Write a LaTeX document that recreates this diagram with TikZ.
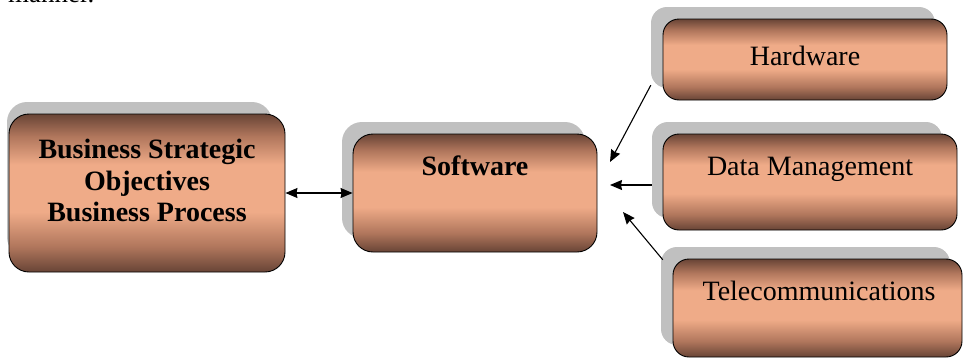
\documentclass[tikz,border=0pt]{standalone}
\usepackage{fontspec}
\setmainfont{Liberation Serif}
\usetikzlibrary{arrows.meta}

\definecolor{copperdark}{RGB}{104,68,54}
\definecolor{coppermid}{RGB}{176,118,92}
\definecolor{copperlight}{RGB}{239,171,136}
\definecolor{shadowgrey}{RGB}{192,192,192}

% copper band: dark rims, light middle
\pgfdeclareverticalshading{copper}{100bp}{%
  color(0bp)=(copperdark); color(25bp)=(copperdark);
  color(33bp)=(coppermid); color(44bp)=(copperlight);
  color(59bp)=(copperlight); color(68bp)=(coppermid);
  color(75bp)=(copperdark); color(100bp)=(copperdark)}

\tikzset{
  shadownode/.style={rectangle, fill=shadowgrey, draw=none, inner sep=0pt},
  copperbox/.style={rectangle, draw=black, line width=0.9pt, shading=copper, inner sep=0pt},
  boxlabel/.style={inner sep=0pt, align=center, font=\fontsize{28}{31.5}\selectfont},
  arr/.style={-{Stealth[length=12pt,width=10pt,inset=1pt]}, line width=1.1pt},
  dblarr/.style={{Stealth[length=12pt,width=10pt,inset=1pt]}-{Stealth[length=12pt,width=10pt,inset=1pt]}, line width=1.1pt}
}

\begin{document}
\begin{tikzpicture}[x=1pt,y=-1pt]
\useasboundingbox (0,0) rectangle (965,359);
\clip (0,0) rectangle (965,359);

% tail of the preceding text line
\node[anchor=base west, inner sep=0pt, font=\fontsize{27}{30}\selectfont] (prevline) at (8,2.5) {manner.};

% shadows
\node[shadownode, rounded corners=20pt, minimum width=265pt, minimum height=155pt] (s1) at (139.5,179.5) {};
\node[shadownode, rounded corners=20pt, minimum width=243pt, minimum height=116pt] (s2) at (463.5,180) {};
\node[shadownode, rounded corners=16pt, minimum width=284pt, minimum height=81pt] (sh) at (793,47.5) {};
\node[shadownode, rounded corners=16pt, minimum width=290pt, minimum height=96pt] (sd) at (797,170) {};
\node[shadownode, rounded corners=16pt, minimum width=289pt, minimum height=98pt] (st) at (805.5,296) {};

% boxes
\node[copperbox, rounded corners=20pt, minimum width=276pt, minimum height=158pt] (b1) at (147,193) {};
\node[copperbox, rounded corners=20pt, minimum width=244pt, minimum height=118pt] (b2) at (475,193) {};
\node[copperbox, rounded corners=16pt, minimum width=284pt, minimum height=81pt] (bh) at (805,59.5) {};
\node[copperbox, rounded corners=16pt, minimum width=294pt, minimum height=96pt] (bd) at (810,182) {};
\node[copperbox, rounded corners=16pt, minimum width=289pt, minimum height=98pt] (bt) at (817.5,308) {};

% labels
\node[boxlabel, font=\bfseries\fontsize{28}{31.5}\selectfont] (t1) at (147,180.5)
  {Business Strategic\\Objectives\\Business Process};
\node[boxlabel, anchor=base, font=\bfseries\fontsize{28}{31.5}\selectfont] (t2) at (475,175) {Software};
\node[boxlabel, anchor=base] (th) at (805,65) {Hardware};
\node[boxlabel, anchor=base] (td) at (810,175) {Data Management};
\node[boxlabel, anchor=base] (tt) at (819,300) {Telecommunications};

% connectors
\coordinate (hwend) at (610,162);
\coordinate (dmend) at (610,185);
\coordinate (tcend) at (623,212);

\draw[dblarr] (b1.east) -- (b2.west);
\draw[arr] ([yshift=3pt]sh.south west) -- (hwend);
\draw[arr] (sd.west |- dmend) -- (dmend);
\draw[arr] ([xshift=2pt,yshift=-13pt]st.north west) -- (tcend);
\end{tikzpicture}
\end{document}
